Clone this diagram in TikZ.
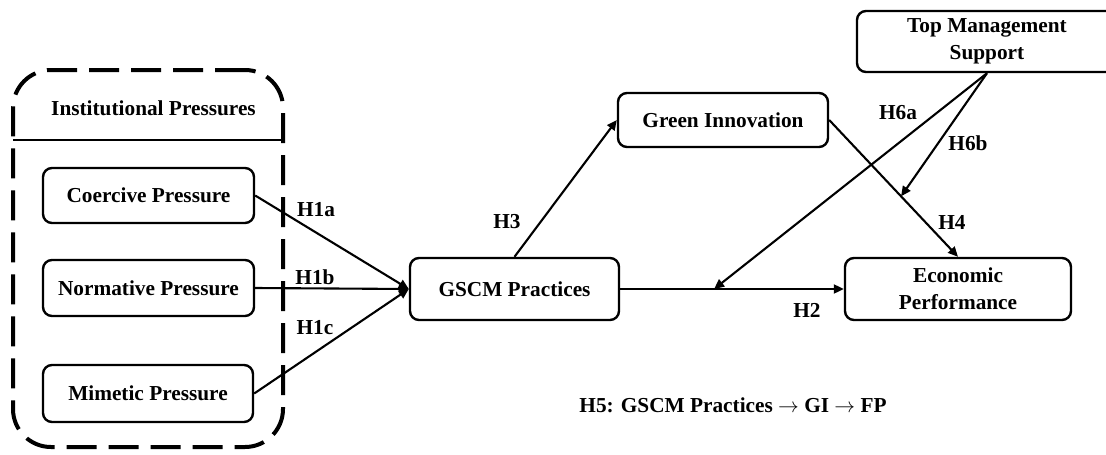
\documentclass[tikz,border=0pt]{standalone}
\usepackage{fontspec}
\setmainfont{Liberation Serif}
\usetikzlibrary{arrows.meta,calc}
\newcommand\hfont{\fontsize{21.3}{27}\selectfont\bfseries}
\begin{document}
\begin{tikzpicture}[x=1pt,y=-1pt,
  box/.style={draw, line width=2.4pt, rounded corners=9pt, inner sep=0pt, align=center, font=\hfont},
  grpbox/.style={draw, line width=4pt, dash pattern=on 30pt off 12pt, rounded corners=38pt, inner sep=0pt},
  lab/.style={font=\hfont, inner sep=0pt},
  arr/.style={line width=2.1pt, -{Triangle[length=10pt,width=9pt]}},
  sep/.style={line width=2.4pt}
]
\useasboundingbox (0,0) rectangle (1106,455);

% group
\node[grpbox, minimum width=270pt, minimum height=377pt] (grp) at (148,258.5) {};
\node[lab] (inst) at (153.5,108) {Institutional Pressures};
\coordinate (sepL) at (13,140);
\coordinate (sepR) at (283,140);
\draw[sep] (sepL) -- (sepR);

% boxes
\node[box, minimum width=211pt, minimum height=55pt] (coe) at (148.5,195.5) {Coercive Pressure};
\node[box, minimum width=211pt, minimum height=56pt] (nor) at (148.5,288) {Normative Pressure};
\node[box, minimum width=210pt, minimum height=57pt] (mim) at (148,393.5) {Mimetic Pressure};
\node[box, minimum width=209pt, minimum height=62pt] (gscm) at (514.5,289) {GSCM Practices};
\node[box, minimum width=210pt, minimum height=54pt] (gi) at (723,120) {Green Innovation};
\node[box, minimum width=260pt, minimum height=61pt] (tms) at (987,41.5) {Top Management\\Support};
\node[box, minimum width=226pt, minimum height=62pt] (ep) at (958,289) {Economic\\Performance};

% connectors
\draw[arr] (coe.east) -- (gscm.west);
\draw[arr] (nor.east) -- (gscm.west);
\draw[arr] (mim.east) -- (gscm.west);
\draw[arr] (gscm.north) -- (gi.west);
\draw[arr] (gscm.east) -- coordinate[pos=0.42] (m1) (ep.west);
\draw[arr] (gi.east) -- coordinate[pos=0.558] (m2) (ep.north);
\draw[arr] (tms.south) -- (m1);
\draw[arr] (tms.south) -- (m2);

% labels
\node[lab] (h1a) at (316,210) {H1a};
\node[lab] (h1b) at (315,277) {H1b};
\node[lab] (h1c) at (315,328) {H1c};
\node[lab] (h3) at (507,222) {H3};
\node[lab] (h2) at (807,310) {H2};
\node[lab] (h4) at (952,222) {H4};
\node[lab] (h6a) at (898,113) {H6a};
\node[lab] (h6b) at (968,143) {H6b};
\node[lab] (h5) at (733,405) {H5: GSCM Practices $\rightarrow$ GI $\rightarrow$ FP};
\end{tikzpicture}
\end{document}
